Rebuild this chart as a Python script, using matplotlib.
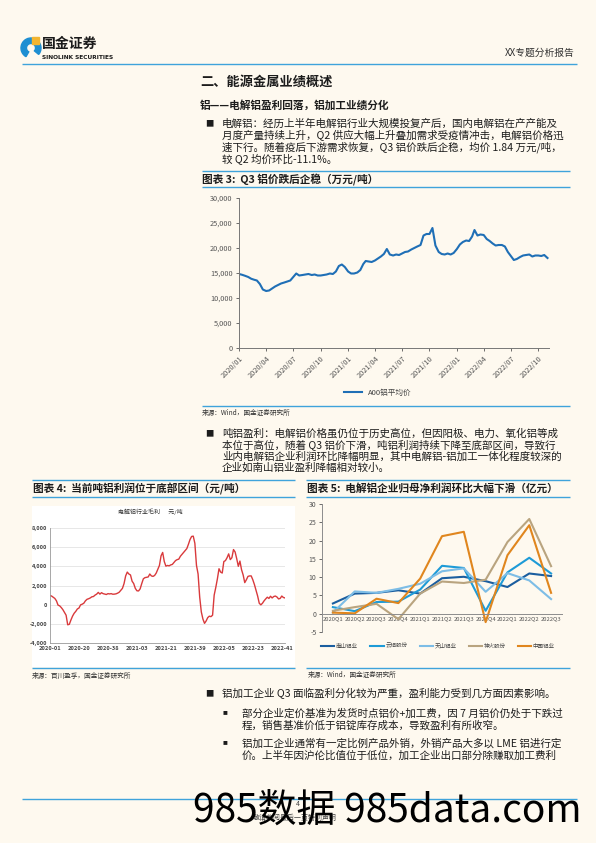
import matplotlib
matplotlib.use('Agg')
import matplotlib.pyplot as plt
import matplotlib.dates as mdates
from matplotlib.patches import Rectangle, Wedge
from matplotlib.ticker import FuncFormatter
import pandas as pd

plt.rcParams['font.family'] = ['Noto Sans CJK SC', 'DejaVu Sans']
plt.rcParams['axes.unicode_minus'] = False

# ---------------- data ----------------
# Fig 3: A00 aluminium average price (yuan/t), sampled on the 1st/11th/21st of each month
a00_values = [
    14800, 14650, 14450, 14200, 13850, 13650, 13500, 12800, 11700,   # 2020 Q1
    11400, 11500, 11900, 12300, 12600, 12900, 13100, 13300, 13500,   # 2020 Q2
    14200, 14900, 14500, 14600, 14700, 14800, 14600, 14700, 14500,   # 2020 Q3
    14500, 14600, 14700, 14900, 14800, 15300, 16400, 16700, 16200,   # 2020 Q4
    15300, 14900, 14900, 15100, 15600, 16800, 17400, 17300, 17200,   # 2021 Q1
    17500, 17900, 18300, 18800, 19800, 18700, 18500, 18700, 18600,   # 2021 Q2
    18900, 19200, 19300, 19700, 20000, 20300, 20600, 22500, 22800,   # 2021 Q3
    22800, 24000, 20500, 19200, 18800, 18700, 18900, 18700, 19000,   # 2021 Q4
    19800, 20700, 21200, 21500, 21400, 22300, 23600, 22500, 22700,   # 2022 Q1
    22600, 21800, 21400, 20900, 20500, 20600, 20600, 20300, 19200,   # 2022 Q2
    18400, 17600, 17800, 18200, 18500, 18600, 18700, 18300, 18500,   # 2022 Q3
    18500, 18400, 18600, 18000,                                      # 2022 Q4
]
a00_months = pd.date_range('2020-01-01', '2022-11-01', freq='MS')
a00_dates = [m + pd.Timedelta(days=d) for m in a00_months for d in (0, 10, 20)][:len(a00_values)]
a00_label = 'A00铝平均价'

# Fig 4: electrolytic aluminium industry gross profit, weekly (yuan/t)
profit_week_labels = ['2020-01', '2020-20', '2020-38', '2021-03', '2021-21',
                      '2021-39', '2022-05', '2022-23', '2022-41']
profit_values = [
    950, 900, 780, 650, 400, -50, -120, -300, -520, -800,
    -1100, -2100, -2050, -1600, -1200, -900, -700, -450, -350, -20,
    50, 150, 400, 560, 620, 700, 820, 850, 1000, 1100,
    1280, 1100, 1250, 1150, 1100, 1060, 1150, 1120, 1150, 1090,
    1100, 1130, 1200, 1300, 1500, 1700, 2200, 3000, 3400, 3200,
    3100, 2450, 2200, 1700, 1450, 1430, 1650, 2200, 2700, 2820,
    2850, 2890, 3200, 3000, 2950, 3050, 3300, 3700, 4100, 5100,
    5450, 4500, 4020, 4090, 4050, 4150, 4200, 4400, 4600, 4700,
    4750, 5050, 5250, 5450, 5650, 5850, 6300, 6800, 7120, 7150,
    6400, 4100, 3200, 800, -750, -1500, -1950, -1700, -1350, -1200,
    -1250, -1100, 1000, 1800, 2700, 3750, 3400, 3300, 4500, 4600,
    4900, 5300, 4700, 4900, 5750, 5500, 4800, 4000, 4550, 3650,
    3100, 2300, 2600, 2950, 3000, 3000, 2600, 2100, 1500, 900,
    150, -20, 150, 400, 600, 780, 650, 880, 700, 850,
    900, 800, 600, 650, 900, 750, 700,
]

# Fig 5: quarterly net profit attributable to parent (100m yuan)
quarters = ['2020Q1', '2020Q2', '2020Q3', '2020Q4', '2021Q1', '2021Q2',
            '2021Q3', '2021Q4', '2022Q1', '2022Q2', '2022Q3']
nanshan = [2.8, 5.5, 5.7, 6.4, 5.5, 9.7, 10.1, 8.9, 7.3, 11.0, 10.3]
yunlv = [1.8, 0.7, 3.2, 3.3, 6.6, 13.1, 12.5, 0.8, 11.3, 15.3, 11.0]
tianshan = [0.3, 6.1, 5.7, 6.8, 8.2, 11.6, 12.4, 6.0, 11.1, 9.1, 4.0]
shenhuo = [0.8, 1.8, 2.7, -1.5, 5.5, 8.8, 8.4, 9.3, 19.6, 25.9, 13.0]
chalco = [0.3, 0.1, 4.1, 2.9, 9.6, 21.2, 22.4, -2.3, 16.0, 24.2, 5.7]
company_names = ['南山铝业', '云铝股份', '天山铝业', '神火股份', '中国铝业']

# ---------------- layout helpers ----------------
W, H = 596, 843
BG = '#FEF9EF'
RULE = '#3FA3DB'
TXT = '#1c1c1c'

fig = plt.figure(figsize=(W / 100, H / 100), dpi=100, facecolor=BG)
ov = fig.add_axes([0, 0, 1, 1])
ov.set_xlim(0, W)
ov.set_ylim(H, 0)
ov.axis('off')


def px_axes(x0, y0, x1, y1):
    a = fig.add_axes([x0 / W, 1 - y1 / H, (x1 - x0) / W, (y1 - y0) / H])
    a.set_facecolor('none')
    return a


def T(x, y, s, size=7.7, ha='left', color=TXT, **kw):
    ov.text(x, y, s, fontsize=size, ha=ha, va='center', color=color, **kw)


def rule(x0, x1, y, lw=1.0, color=RULE):
    ov.plot([x0, x1], [y, y], color=color, lw=lw, solid_capstyle='butt')


# ---------------- header ----------------
ov.add_patch(Wedge((31, 48), 10, 120, 400, width=5.5, color='#1E8FD2'))
ov.add_patch(Rectangle((32, 37), 6.5, 6.5, color='#F2B531'))
T(42, 44, '国金证券', size=10, weight='bold', color='#1a1a1a')
T(42, 57.5, 'SINOLINK SECURITIES', size=4.2, weight='bold', color='#1a1a1a', family='DejaVu Sans')
T(575, 53, 'XX专题分析报告', size=7, ha='right', color='#333333')
rule(22, 577, 64, lw=1.0)

T(200, 82, '二、能源金属业绩概述', size=9.5, weight='bold')
T(200, 105, '铝——电解铝盈利回落，铝加工业绩分化', size=7.7, weight='bold')

para1 = ['电解铝：经历上半年电解铝行业大规模投复产后，国内电解铝在产产能及',
         '月度产量持续上升，Q2 供应大幅上升叠加需求受疫情冲击，电解铝价格迅',
         '速下行。随着疫后下游需求恢复，Q3 铝价跌后企稳，均价 1.84 万元/吨，',
         '较 Q2 均价环比-11.1%。']
T(205, 124, '■', size=6)
for i, s in enumerate(para1):
    T(222, 124 + i * 11.8, s, size=7.6)

# ---------------- figure 3 ----------------
rule(202, 570, 171)
T(202, 179, '图表 3:  Q3 铝价跌后企稳（万元/吨）', size=7.7, weight='bold')
rule(202, 570, 187)

ax3 = px_axes(239, 198, 549, 348)
ax3.plot(a00_dates, a00_values, color='#1F6FB6', lw=1.5, label=a00_label)
ax3.set_ylim(0, 30000)
ax3.set_yticks(range(0, 30001, 5000))
ax3.yaxis.set_major_formatter(FuncFormatter(lambda v, p: f'{v:,.0f}'))
ax3.set_xlim(pd.Timestamp('2020-01-01'), pd.Timestamp('2022-11-06'))
ax3.xaxis.set_major_locator(mdates.MonthLocator(bymonth=[1, 4, 7, 10]))
ax3.xaxis.set_major_formatter(mdates.DateFormatter('%Y/%m'))
for lab in ax3.get_xticklabels():
    lab.set_rotation(45)
    lab.set_ha('right')
    lab.set_rotation_mode('anchor')
ax3.tick_params(labelsize=5.3, colors='#555555', length=2.5, width=0.6, pad=2)
for sp in ('top', 'right'):
    ax3.spines[sp].set_visible(False)
for sp in ('left', 'bottom'):
    ax3.spines[sp].set_color('#777777')
    ax3.spines[sp].set_linewidth(0.7)
ax3.legend(loc='center', bbox_to_anchor=(378 / W, 1 - 393 / H), bbox_transform=fig.transFigure,
           frameon=False, fontsize=5.5, handlelength=2.3, labelcolor='#444444', borderpad=0)

rule(202, 570, 406)
T(202, 413, '来源：Wind，国金证券研究所', size=4.8, color='#333333')

para2 = ['吨铝盈利：电解铝价格虽仍位于历史高位，但因阳极、电力、氧化铝等成',
         '本位于高位，随着 Q3 铝价下滑，吨铝利润持续下降至底部区间，导致行',
         '业内电解铝企业利润环比降幅明显，其中电解铝-铝加工一体化程度较深的',
         '企业如南山铝业盈利降幅相对较小。']
T(205, 434, '■', size=6)
for i, s in enumerate(para2):
    T(222, 434 + i * 11.2, s, size=7.6)

# ---------------- figure 4 ----------------
rule(32, 295, 480)
T(33, 488.5, '图表 4:  当前吨铝利润位于底部区间（元/吨）', size=7.7, weight='bold')
rule(32, 295, 497)
ov.add_patch(Rectangle((32, 506), 263, 161, facecolor='white', edgecolor='none'))
T(150, 511.5, '电解铝行业毛利      元/吨', size=4.3, ha='center', color='#333333')

ax4 = px_axes(50, 528, 285, 643)
ax4.plot(range(len(profit_values)), profit_values, color='#D93A3C', lw=1.0)
ax4.set_ylim(-4000, 8000)
ax4.set_yticks(range(-4000, 8001, 2000))
ax4.yaxis.set_major_formatter(FuncFormatter(lambda v, p: f'{v:,.0f}'))
ax4.set_xlim(0, len(profit_values) - 1)
ax4.set_xticks([i * 18 for i in range(len(profit_week_labels))])
ax4.set_xticklabels(profit_week_labels)
ax4.grid(axis='y', color='#E3E3E3', lw=0.6)
ax4.set_axisbelow(True)
ax4.tick_params(labelsize=4.1, colors='#444444', length=0, pad=2)
for lab in ax4.get_xticklabels() + ax4.get_yticklabels():
    lab.set_fontweight('bold')
for sp in ('top', 'right'):
    ax4.spines[sp].set_visible(False)
for sp in ('left', 'bottom'):
    ax4.spines[sp].set_color('#999999')
    ax4.spines[sp].set_linewidth(0.6)

rule(32, 295, 668)
T(32, 676, '来源：百川盈孚，国金证券研究所', size=4.8, color='#333333')

# ---------------- figure 5 ----------------
rule(306, 570, 480)
T(307, 488.5, '图表 5:  电解铝企业归母净利润环比大幅下滑（亿元）', size=7.7, weight='bold')
rule(306, 570, 497)

ax5 = px_axes(322, 504, 562, 632)
colors5 = ['#1B5E9F', '#1E9BD7', '#7DBDE6', '#B9A47F', '#E0861E']
for vals, name, c in zip([nanshan, yunlv, tianshan, shenhuo, chalco], company_names, colors5):
    ax5.plot(range(len(quarters)), vals, color=c, lw=1.5, label=name)
ax5.set_xlim(-0.5, len(quarters) - 0.5)
ax5.set_ylim(-5, 30)
ax5.set_yticks(range(-5, 31, 5))
ax5.set_xticks(range(len(quarters)))
ax5.set_xticklabels(quarters)
ax5.spines['bottom'].set_position(('data', 0))
for sp in ('top', 'right'):
    ax5.spines[sp].set_visible(False)
for sp in ('left', 'bottom'):
    ax5.spines[sp].set_color('#8C8C8C')
    ax5.spines[sp].set_linewidth(0.7)
ax5.tick_params(axis='y', labelsize=5, colors='#555555', length=2, width=0.6, pad=2)
ax5.tick_params(axis='x', labelsize=4.2, colors='#555555', length=0, pad=2)
ax5.legend(loc='center', ncol=5, bbox_to_anchor=(438 / W, 1 - 646 / H), bbox_transform=fig.transFigure,
           frameon=False, fontsize=4.0, handlelength=2.4, columnspacing=2.2, handletextpad=0.3,
           labelcolor='#444444', borderpad=0)

rule(306, 570, 668)
T(308, 675, '来源：Wind，国金证券研究所', size=4.8, color='#333333')

# ---------------- bullets ----------------
T(205, 694, '■', size=6)
T(222, 694, '铝加工企业 Q3 面临盈利分化较为严重，盈利能力受到几方面因素影响。', size=7.6)
sub1 = ['部分企业定价基准为发货时点铝价+加工费，因 7 月铝价仍处于下跌过',
        '程，销售基准价低于铝锭库存成本，导致盈利有所收窄。']
sub2 = ['铝加工企业通常有一定比例产品外销，外销产品大多以 LME 铝进行定',
        '价。上半年因沪伦比值位于低位，加工企业出口部分除赚取加工费利']
T(223, 713, '■', size=3.5)
for i, s in enumerate(sub1):
    T(242, 713 + i * 12.5, s, size=7.6)
T(223, 743, '■', size=3.5)
for i, s in enumerate(sub2):
    T(242, 743 + i * 12.5, s, size=7.6)

# ---------------- footer ----------------
rule(22, 577, 799)
T(298, 804, '4', size=5, ha='center', color='#444444')
T(295, 818, '敬请参阅最后一页特别声明', size=5, ha='center', color='#444444')
T(387, 812, '985数据 985data.com', size=28, ha='center', color='black')

fig.savefig('out.png', dpi=100, facecolor=BG)
